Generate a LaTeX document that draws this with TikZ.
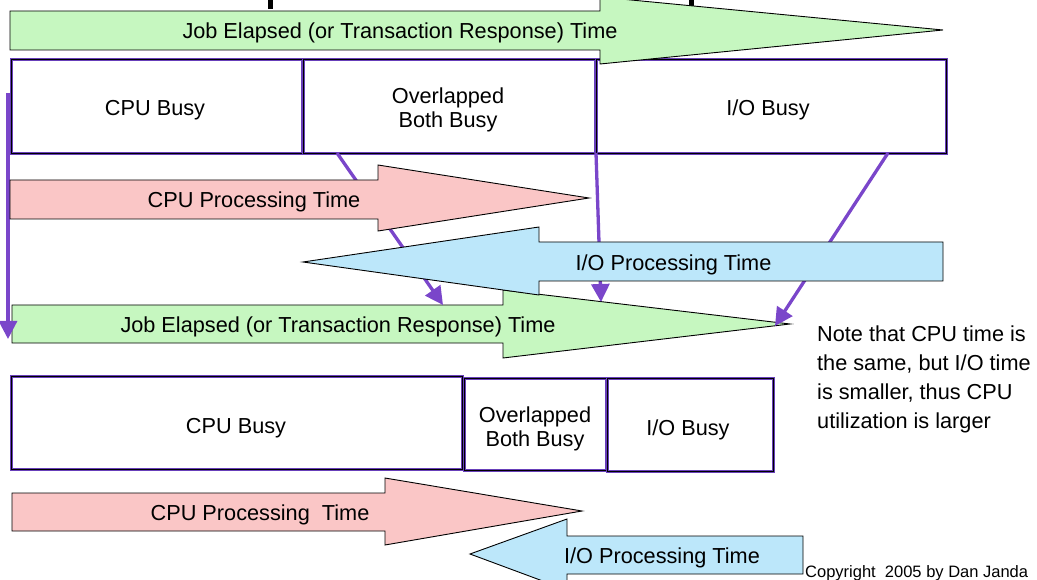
\documentclass[tikz,border=0pt]{standalone}
\usepackage{fontspec}
\setmainfont{Liberation Sans}
\usetikzlibrary{arrows.meta}

\definecolor{jobgreen}{RGB}{198,247,192}
\definecolor{cpupink}{RGB}{250,198,198}
\definecolor{ioblue}{RGB}{188,231,250}
\definecolor{boxpurple}{RGB}{104,64,186}
\definecolor{linkpurple}{RGB}{122,70,202}

\newcommand{\lblfont}{\fontsize{21.7}{23.5}\selectfont}

\begin{document}
\begin{tikzpicture}[x=1pt,y=-1pt,
  blockarrow/.style={draw=black, line width=0.9pt, line join=miter},
  lbl/.style={font=\lblfont, inner sep=0pt, anchor=base},
  busy/.style={draw=boxpurple, line width=3pt, fill=white,
    postaction={draw=black, line width=0.9pt},
    font=\lblfont, align=center, anchor=north west, inner sep=0pt},
  link/.style={draw=linkpurple, line width=3.3pt,
    -{Triangle[length=18pt,width=18pt]}}
]
\useasboundingbox (0,0) rectangle (1037,580);

% descenders of the heading above the frame
\fill (268,0) rectangle (273,9);
\fill (689,0) rectangle (694,7);

% ---------- first timeline ----------
\node[busy, minimum width=291pt, minimum height=94pt] (cpuA) at (10,58) {};
\node[busy, minimum width=292pt, minimum height=94pt] (ovlA) at (302,58) {};
\node[busy, minimum width=350pt, minimum height=94pt] (ioA) at (595,58) {};
\node[lbl] (cpuAt) at (155,115.5) {CPU Busy};
\node[lbl, align=center] (ovlAt) at (448,127.5) {Overlapped\\Both Busy};
\node[lbl] (ioAt) at (768,115.5) {I/O Busy};

% elapsed time, first case
\path[blockarrow, fill=jobgreen]
  (10,11) -- (600,11) -- (600,-3) -- (943,30) -- (600,64) -- (600,50) -- (10,50) -- cycle;
\node[lbl] (jobA) at (400,38.5) {Job Elapsed (or Transaction Response) Time};

% elapsed time, second case (target of the links)
\path[blockarrow, fill=jobgreen]
  (12,305) -- (503,305) -- (503,290) -- (790,324) -- (503,358) -- (503,343) -- (12,343) -- cycle;
\node[lbl] (jobB) at (338,332.5) {Job Elapsed (or Transaction Response) Time};

\coordinate (l1s) at (8,93);    \coordinate (l1e) at (8,339);
\coordinate (l2s) at (337,153); \coordinate (l2e) at (443,305);
\coordinate (l3s) at (596,153); \coordinate (l3e) at (601,302);
\coordinate (l4s) at (888,153); \coordinate (l4e) at (775,326);
\draw[link] (l1s) -- (l1e);
\draw[link] (l2s) -- (l2e);
\draw[link] (l3s) -- (l3e);
\draw[link] (l4s) -- (l4e);

% processing times, first case
\path[blockarrow, fill=cpupink]
  (10,180) -- (378,180) -- (378,165) -- (589,198) -- (378,231) -- (378,219) -- (10,219) -- cycle;
\node[lbl] (cpuPA) at (254,208) {CPU Processing Time};

\path[blockarrow, fill=ioblue]
  (943,242) -- (539,242) -- (539,227) -- (303,262) -- (539,295) -- (539,281) -- (943,281) -- cycle;
\node[lbl] (ioPA) at (673.5,270.5) {I/O Processing Time};

% note (anchored on the baseline of its last line)
\node[font=\fontsize{21.7}{28.7}\selectfont, align=left, anchor=base west, inner sep=0pt]
  (note) at (817,428) {Note that CPU time is\\the same, but I/O time\\is smaller, thus CPU\\utilization is larger};

% ---------- second timeline ----------
\node[busy, minimum width=451pt, minimum height=93pt] (cpuB) at (10,375) {};
\node[busy, minimum width=142pt, minimum height=92pt] (ovlB) at (463,377) {};
\node[busy, minimum width=166pt, minimum height=93pt] (ioB) at (606,377) {};
\node[lbl] (cpuBt) at (236,433) {CPU Busy};
\node[lbl, align=center] (ovlBt) at (535,446) {Overlapped\\Both Busy};
\node[lbl] (ioBt) at (688,435) {I/O Busy};

\path[blockarrow, fill=cpupink]
  (12,493) -- (385,493) -- (385,478) -- (582,511) -- (385,545) -- (385,531) -- (12,531) -- cycle;
\node[lbl] (cpuPB) at (260,520.5) {CPU Processing\ \ Time};

\path[blockarrow, fill=ioblue]
  (803,536) -- (567,536) -- (567,519) -- (470,554) -- (567,590) -- (567,574) -- (803,574) -- cycle;
\node[lbl] (ioPB) at (662,563) {I/O Processing Time};

\node[font=\fontsize{16.5}{18}\selectfont, anchor=base west, inner sep=0pt]
  (copy) at (805,577) {Copyright\ \ 2005 by Dan Janda};
\end{tikzpicture}
\end{document}
